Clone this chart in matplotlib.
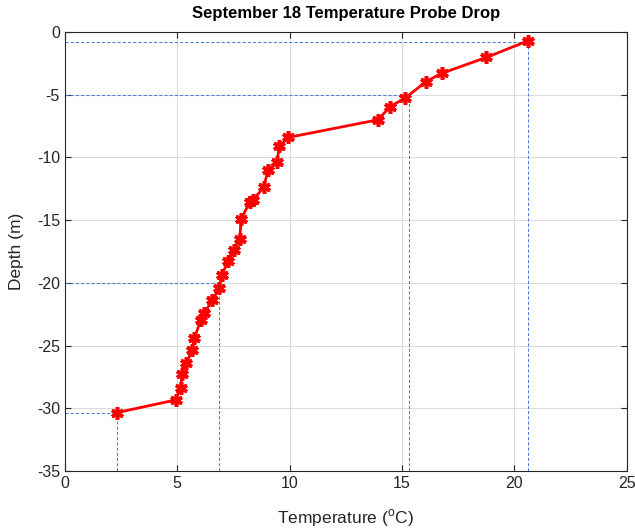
import matplotlib
matplotlib.use("Agg")
import matplotlib.pyplot as plt

plt.rcParams['font.family'] = ['Liberation Sans', 'DejaVu Sans']
plt.rcParams['mathtext.fontset'] = 'custom'
plt.rcParams['mathtext.rm'] = 'Liberation Sans'
plt.rcParams['axes.unicode_minus'] = False

# probe readings
temp = [20.6, 18.75, 16.76, 16.07, 15.13, 14.48, 13.93, 9.95, 9.54, 9.44,
        9.04, 8.85, 8.38, 8.22, 7.84, 7.79, 7.54, 7.26, 6.98, 6.86,
        6.57, 6.21, 6.04, 5.77, 5.67, 5.41, 5.22, 5.15, 4.93, 2.31]
depth = [-0.72, -2.04, -3.31, -3.97, -5.29, -5.95, -7.01, -8.41, -9.13, -10.4,
         -11.02, -12.38, -13.4, -13.6, -14.95, -16.48, -17.4, -18.3, -19.39, -20.45,
         -21.4, -22.4, -23.0, -24.4, -25.35, -26.4, -27.26, -28.35, -29.34, -30.35]

# dashed guide lines (temperature, depth)
ref_temp = [20.6, 15.3, 6.85, 2.31]
ref_depth = [-0.8, -5.0, -20.0, -30.35]

xmin, xmax = 0, 25
ymin, ymax = -35, 0

fig = plt.figure(figsize=(6.35, 5.31), dpi=100)
ax = fig.add_axes([0.102, 0.113, 0.885, 0.827])

ax.grid(True, color='#dcdcdc', linewidth=0.8)
ax.set_axisbelow(True)

for t, d in zip(ref_temp, ref_depth):
    ax.plot([xmin, t], [d, d], color='#4f7ad8', linewidth=0.75, dashes=(3, 2))
    ax.plot([t, t], [ymin, d], color='#4f7ad8', linewidth=0.75, dashes=(3, 2))

ax.plot(temp, depth, color='red', linewidth=2, marker=(6, 2, 0),
        markersize=9, markeredgewidth=2.6, markeredgecolor='red')

ax.set_xlim(xmin, xmax)
ax.set_ylim(ymin, ymax)
ax.set_xticks(range(0, 26, 5))
ax.set_yticks(range(-35, 1, 5))
ax.tick_params(direction='in', top=True, right=True, labelsize=11.5,
               colors='#262626', length=4, width=0.8)
for s in ax.spines.values():
    s.set_color('#262626')
    s.set_linewidth(0.8)

ax.set_title('September 18 Temperature Probe Drop', fontsize=12,
             fontweight='bold', pad=10)
ax.set_xlabel(r'Temperature ($^{\mathrm{o}}$C)', fontsize=12.5, color='#262626',
              labelpad=12)
ax.set_ylabel('Depth (m)', fontsize=12.5, color='#262626', labelpad=9)

fig.savefig('out.png', dpi=100)
